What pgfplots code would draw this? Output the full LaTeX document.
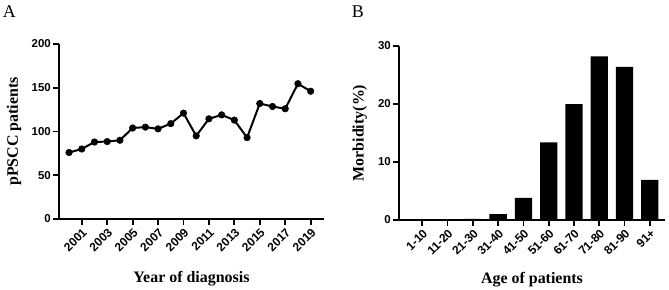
\documentclass[border=0pt]{standalone}
\usepackage{fontspec}
\setmainfont{Liberation Serif}
\newfontfamily\arialfont{Liberation Sans}
\usepackage{pgfplots}
\pgfplotsset{compat=1.18}
\pgfplotsset{
  mystyle/.style={
    scale only axis,
    axis lines=left,
    axis line style={line width=2bp, -},
    every tick/.style={line width=1.8bp, black},
    tick align=outside,
    major tick length=6bp,
    yticklabel style={font=\arialfont\bfseries\fontsize{11.5}{11.5}\selectfont, inner sep=2bp},
    xticklabel style={font=\arialfont\bfseries\fontsize{12}{12}\selectfont, inner sep=1.5bp, rotate=45, anchor=north east},
    /pgf/number format/assume math mode=true,
    /pgf/number format/1000 sep={},
    label style={font=\bfseries\fontsize{16}{16}\selectfont},
    xlabel style={anchor=center},
    ylabel style={anchor=center},
    clip=false,
  }
}
\begin{document}
\begin{tikzpicture}
\useasboundingbox (-59bp,-71bp) rectangle (610bp,219bp);
% Panel A
\begin{axis}[mystyle,
  width=265bp, height=175bp,
  xmin=1999.21, xmax=2020.05,
  ymin=0, ymax=200,
  xtick={2001,2003,...,2019},
  ytick={0,50,100,150,200},
  xlabel={Year of diagnosis},
  ylabel={pPSCC patients},
  xlabel style={at={(axis description cs:0.5,-0.34)}},
  ylabel style={at={(axis description cs:-0.17,0.5)}},
]
\addplot[black, line width=2bp, mark=*, mark size=3.3bp, mark options={fill=black, line width=0.5bp}] coordinates {
(2000,76) (2001,80) (2002,88) (2003,88.5) (2004,90) (2005,104) (2006,105)
(2007,103) (2008,109) (2009,121) (2010,95) (2011,114.5) (2012,119) (2013,113)
(2014,93) (2015,132) (2016,128.6) (2017,126) (2018,154.6) (2019,146)
};
\end{axis}
% Panel B
\begin{axis}[mystyle,
  at={(340bp,-1bp)},
  width=266bp, height=174bp,
  xmin=-0.92, xmax=9.6,
  ymin=0, ymax=30,
  xtick={0,1,...,9},
  xticklabels={1-10,11-20,21-30,31-40,41-50,51-60,61-70,71-80,81-90,91+},
  ytick={0,10,20,30},
  xlabel={Age of patients},
  ylabel={Morbidity(\%)},
  xlabel style={at={(axis description cs:0.5,-0.342)}},
  ylabel style={at={(axis description cs:-0.147,0.5)}},
]
\addplot[ybar, bar width=17.3bp, fill=black, draw=none] coordinates {
(0,0) (1,0) (2,0.2) (3,1.0) (4,3.8) (5,13.4) (6,20.0) (7,28.2) (8,26.4) (9,6.9)
};
\end{axis}
\node[anchor=base west, inner sep=0pt, font=\fontsize{18}{18}\selectfont] at (-56.3bp,201.7bp) {A};
\node[anchor=base west, inner sep=0pt, font=\fontsize{18}{18}\selectfont] at (292.7bp,201.7bp) {B};
\end{tikzpicture}
\end{document}
